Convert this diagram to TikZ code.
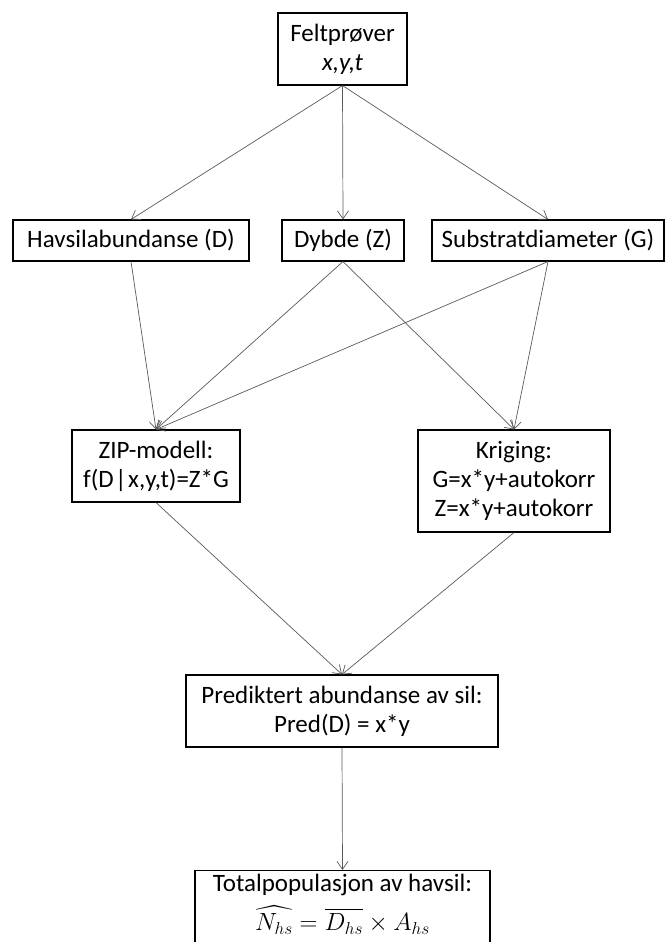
\documentclass[tikz,border=0pt]{standalone}
\usepackage{amsmath}
\usepackage{fontspec}
\setmainfont{Carlito}
\usetikzlibrary{arrows.meta}
\begin{document}
\begin{tikzpicture}[x=1pt,y=-1pt,
  box/.style={draw=black,line width=1.1pt,fill=white,inner sep=0pt,align=center,
    font=\fontsize{25}{29}\selectfont},
  conn/.style={draw=black!65,line width=0.7pt,-{Straight Barb[length=8pt,width=11pt]}}]
\useasboundingbox (0,0) rectangle (666,942);
\node[box,minimum width=129pt,minimum height=72pt] (F) at (342.5,49) {Feltprøver\\\textit{x,y,t}};
\node[box,minimum width=236pt,minimum height=41pt] (H) at (131,240.5) {Havsilabundanse (D)};
\node[box,minimum width=122pt,minimum height=41pt] (Dy) at (343,240.5) {Dybde (Z)};
\node[box,minimum width=232pt,minimum height=41pt] (S) at (548,240.5) {Substratdiameter (G)};
\node[box,minimum width=168pt,minimum height=72pt] (Z) at (156,466) {ZIP-modell:\\f(D\hspace{1.5pt}|\hspace{1.5pt}x,y,t)=Z*G};
\node[box,minimum width=192pt,minimum height=102pt] (K) at (514,481) {Kriging:\\G=x*y+autokorr\\Z=x*y+autokorr};
\node[box,minimum width=312pt,minimum height=72pt] (P) at (342,711) {Prediktert abundanse av sil:\\Pred(D) = x*y};
\node[box,minimum width=295pt,minimum height=100pt,anchor=north,text depth=0pt] (T) at (342.5,870)
  {\raisebox{0pt}[0pt][0pt]{}Totalpopulasjon av havsil:\\[9pt]\fontsize{26}{29}\selectfont$\widehat{N_{hs}}=\overline{D_{hs}}\times A_{hs}$\\[8pt]\mbox{}};
\draw[conn] (F.south) -- (H.north);
\draw[conn] (F.south) -- (Dy.north);
\draw[conn] (F.south) -- (S.north);
\draw[conn] (H.south) -- (Z.north);
\draw[conn] (Dy.south) -- (Z.north);
\draw[conn] (S.south) -- (Z.north);
\draw[conn] (Dy.south) -- (K.north);
\draw[conn] (S.south) -- (K.north);
\draw[conn] (Z.south) -- (P.north);
\draw[conn] (K.south) -- (P.north);
\draw[conn] (P.south) -- (T.north);
\end{tikzpicture}
\end{document}
